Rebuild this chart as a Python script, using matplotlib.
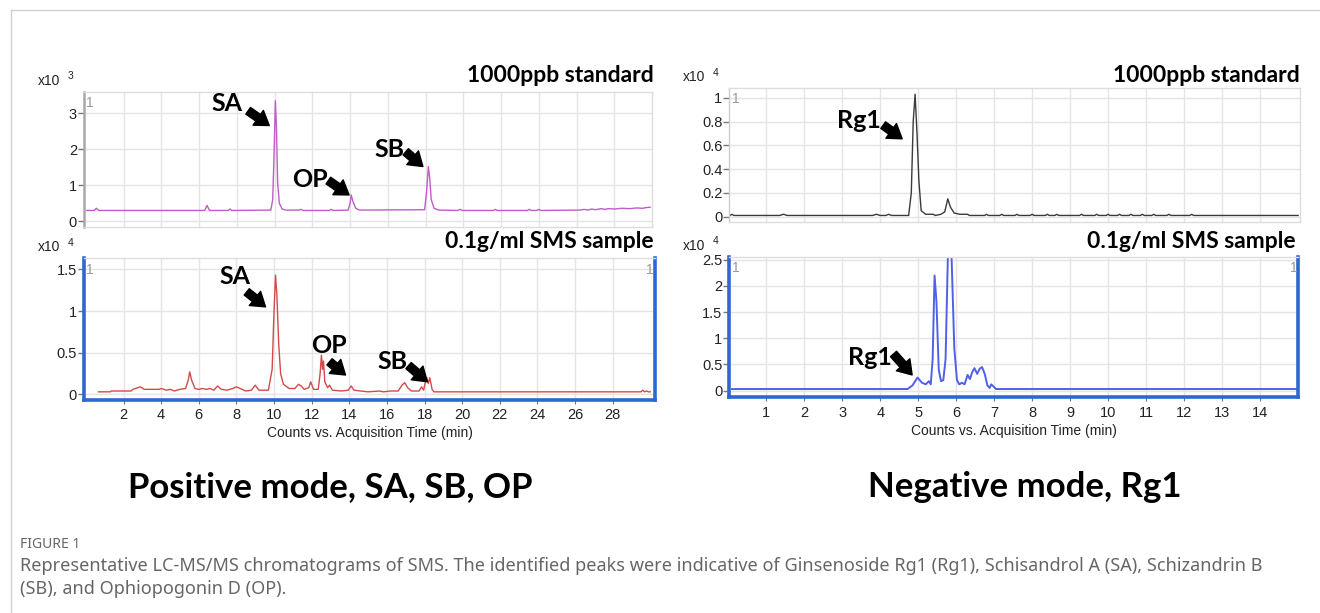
import numpy as np
import matplotlib
matplotlib.use("Agg")
import matplotlib.pyplot as plt
from matplotlib.lines import Line2D

W, H = 1320, 613

# ---- data ----
# positive mode, 1000ppb standard (x10^3 counts)
pos_std_t = [0.05, 0.45, 0.55, 0.7, 6.3, 6.42, 6.55, 7.55, 7.64, 7.72, 9.8, 9.9, 9.97, 10.04, 10.1,
             10.16, 10.25, 10.4, 10.6, 11.3, 11.4, 11.5, 12.9, 13.0, 13.1, 13.9, 14.0, 14.06, 14.15,
             14.3, 14.5, 17.95, 18.05, 18.15, 18.22, 18.3, 18.45, 18.7, 19.7, 19.83, 19.95, 21.6,
             21.7, 21.8, 23.4, 23.5, 23.6, 23.9, 24.0, 24.1, 26.2, 26.4, 26.6, 26.8, 27.0, 27.3,
             27.5, 27.7, 28.0, 28.4, 28.8, 29.2, 29.5, 29.7, 29.9]
pos_std_y = [0.30, 0.30, 0.36, 0.30, 0.30, 0.44, 0.30, 0.30, 0.34, 0.30, 0.31, 0.60, 1.80, 3.35, 2.60,
             1.10, 0.50, 0.34, 0.31, 0.31, 0.33, 0.30, 0.30, 0.33, 0.30, 0.31, 0.50, 0.73, 0.55,
             0.36, 0.31, 0.32, 0.80, 1.52, 1.20, 0.60, 0.36, 0.31, 0.30, 0.33, 0.30, 0.30,
             0.33, 0.30, 0.30, 0.33, 0.30, 0.30, 0.33, 0.30, 0.31, 0.33, 0.31, 0.34, 0.32, 0.35,
             0.33, 0.35, 0.34, 0.36, 0.35, 0.37, 0.36, 0.38, 0.39]

# positive mode, 0.1g/ml SMS sample (x10^4 counts)
pos_smp_t = [0.67, 1.3, 1.35, 2.4, 2.5, 2.9, 3.1, 3.9, 4.0, 4.3, 4.5, 4.7, 5.0, 5.3, 5.45, 5.52,
             5.62, 5.8, 6.0, 6.2, 6.4, 6.6, 6.8, 7.0, 7.2, 7.5, 7.8, 8.0, 8.2, 8.5, 8.8, 9.0, 9.2,
             9.7, 9.9, 10.0, 10.08, 10.15, 10.25, 10.35, 10.5, 10.8, 11.1, 11.3, 11.45, 11.6, 11.85,
             11.95, 12.1, 12.35, 12.45, 12.52, 12.58, 12.63, 12.7, 12.85, 12.95, 13.1, 13.6, 13.95,
             14.1, 14.25, 14.6, 15.0, 15.6, 15.8, 16.2, 16.6, 16.8, 16.95, 17.1, 17.3, 17.7, 17.85,
             17.95, 18.05, 18.12, 18.2, 18.28, 18.4, 18.5, 29.5, 29.6, 29.7, 29.8, 29.9, 30.0]
pos_smp_y = [0.03, 0.03, 0.04, 0.04, 0.06, 0.09, 0.06, 0.06, 0.07, 0.05, 0.06, 0.04, 0.06, 0.07,
             0.18, 0.27, 0.17, 0.07, 0.06, 0.07, 0.06, 0.07, 0.05, 0.10, 0.06, 0.05, 0.07, 0.09,
             0.07, 0.04, 0.05, 0.11, 0.05, 0.05, 0.30, 1.00, 1.43, 1.20, 0.60, 0.25, 0.12, 0.07,
             0.07, 0.12, 0.10, 0.06, 0.08, 0.15, 0.06, 0.06, 0.25, 0.47, 0.30, 0.40, 0.15, 0.08,
             0.11, 0.05, 0.04, 0.05, 0.10, 0.05, 0.04, 0.03, 0.04, 0.03, 0.04, 0.04, 0.11, 0.14,
             0.08, 0.04, 0.04, 0.09, 0.05, 0.15, 0.20, 0.13, 0.20, 0.06, 0.03, 0.03, 0.05, 0.03,
             0.04, 0.03, 0.03]

# negative mode, 1000ppb standard (x10^4 counts)
neg_std_t = [0.05, 0.1, 0.15, 1.35, 1.46, 1.55, 3.8, 3.9, 4.0, 4.15, 4.22, 4.3, 4.75, 4.82, 4.87,
             4.92, 4.97, 5.02, 5.08, 5.2, 5.4, 5.45, 5.6, 5.7, 5.78, 5.85, 5.95, 6.1, 6.3, 6.35,
             6.75, 6.8, 6.85, 7.15, 7.2, 7.25, 7.55, 7.6, 7.65, 7.95, 8.0, 8.05, 8.35, 8.4, 8.45,
             8.6, 8.65, 8.7, 9.25, 9.3, 9.35, 9.65, 9.7, 9.75, 9.95, 10.0, 10.05, 10.25, 10.3,
             10.35, 10.55, 10.6, 10.65, 10.85, 10.9, 10.95, 11.15, 11.2, 11.25, 11.55, 11.6, 11.65,
             12.15, 12.2, 12.25, 15.0]
neg_std_y = [0.01, 0.02, 0.01, 0.01, 0.02, 0.01, 0.01, 0.02, 0.01, 0.01, 0.02, 0.01, 0.01, 0.20,
             0.80, 1.03, 0.70, 0.30, 0.05, 0.02, 0.02, 0.01, 0.02, 0.04, 0.15, 0.08, 0.03, 0.02,
             0.02, 0.01, 0.01, 0.02, 0.01, 0.01, 0.02, 0.01, 0.01, 0.02, 0.01, 0.01, 0.02, 0.01,
             0.01, 0.02, 0.01, 0.01, 0.02, 0.01, 0.01, 0.02, 0.01, 0.01, 0.02, 0.01, 0.01, 0.02,
             0.01, 0.01, 0.02, 0.01, 0.01, 0.02, 0.01, 0.01, 0.02, 0.01, 0.01, 0.02, 0.01, 0.01,
             0.02, 0.01, 0.01, 0.02, 0.01, 0.01]

# negative mode, 0.1g/ml SMS sample (x10^4 counts)
neg_smp_t = [0.1, 4.72, 4.85, 4.98, 5.1, 5.2, 5.28, 5.33, 5.38, 5.43, 5.48, 5.54, 5.6, 5.66, 5.72,
             5.8, 5.88, 5.95, 6.02, 6.08, 6.15, 6.22, 6.3, 6.36, 6.42, 6.48, 6.55, 6.62, 6.68, 6.75,
             6.82, 6.88, 6.92, 6.98, 7.05, 15.0]
neg_smp_y = [0.03, 0.03, 0.10, 0.25, 0.15, 0.12, 0.18, 0.12, 0.60, 2.20, 1.70, 0.40, 0.18, 0.20,
             0.60, 3.20, 2.50, 0.80, 0.20, 0.12, 0.15, 0.12, 0.30, 0.22, 0.35, 0.43, 0.32, 0.42,
             0.45, 0.32, 0.10, 0.05, 0.12, 0.08, 0.03, 0.03]

pos_xticks = list(range(2, 30, 2))
neg_xticks = list(range(1, 15))

plt.rcParams['font.family'] = ['Liberation Sans', 'DejaVu Sans']

fig = plt.figure(figsize=(W / 100, H / 100), dpi=100)


def rect(l, t, r, b):
    return [l / W, 1 - b / H, (r - l) / W, (b - t) / H]


def setup(ax, xlim, ylim, yticks, xticks, sample, line_t, line_y, color, expo, lw=1.0):
    ax.plot(line_t, line_y, color=color, lw=lw, clip_on=True)
    ax.set_xlim(*xlim)
    ax.set_ylim(*ylim)
    ax.set_yticks(yticks)
    ax.set_yticklabels([('%g' % v) for v in yticks])
    ax.set_xticks(xticks)
    ax.grid(True, color='#e4e4e4', lw=1.0)
    ax.set_axisbelow(True)
    ax.tick_params(axis='y', length=4, width=1, color='#777777', labelsize=10.5, pad=1,
                   labelcolor='#222222')
    for s in ax.spines.values():
        s.set_color('#dddddd')
        s.set_linewidth(1.0)
    if sample:
        for k in ['left', 'bottom', 'right']:
            ax.spines[k].set_color('#2f66d0')
            ax.spines[k].set_linewidth(2.6)
        ax.tick_params(axis='x', length=3, color='#777777', labelsize=10.5, labelcolor='#222222',
                       pad=3)
        ax.text(0.998, 0.97, '1', transform=ax.transAxes, ha='right', va='top',
                fontsize=10, color='#999999')
    else:
        ax.spines['left'].set_color('#a8a8a8')
        ax.spines['left'].set_linewidth(1.8)
        ax.tick_params(axis='x', length=0, labelbottom=False)
    ax.text(0.004, 0.97, '1', transform=ax.transAxes, ha='left', va='top',
            fontsize=10, color='#999999')
    # x10^n label
    p = ax.get_position()
    fig.text(p.x0 - 0.035, p.y1 + 0.018, 'x10', fontsize=10, color='#222222', va='center')
    fig.text(p.x0 - 0.0125, p.y1 + 0.025, expo, fontsize=7.5, color='#222222', va='center')


def arrow(ax, tail, head):
    ax.annotate('', xy=head, xytext=tail,
                arrowprops=dict(arrowstyle='simple,head_width=1.0,head_length=0.75,tail_width=0.45',
                                mutation_scale=13, color='black', shrinkA=0, shrinkB=0))


lbl = dict(fontsize=18, fontweight='bold', family='Lato', ha='center', va='center', color='black')

# positive, standard
ax1 = fig.add_axes(rect(84, 91.7, 652, 227))
setup(ax1, (-0.1, 30.0), (-0.16, 3.6), [0, 1, 2, 3], pos_xticks, False,
      pos_std_t, pos_std_y, '#c05cc8', '3')
ax1.text(7.5, 3.26, 'SA', **lbl)
arrow(ax1, (8.6, 3.07), (9.72, 2.66))
ax1.text(11.9, 1.15, 'OP', **lbl)
arrow(ax1, (12.85, 1.13), (13.95, 0.73))
ax1.text(16.1, 2.0, 'SB', **lbl)
arrow(ax1, (16.95, 1.93), (17.86, 1.52))

# positive, sample
ax2 = fig.add_axes(rect(84, 258.3, 655, 400))
setup(ax2, (-0.1, 30.25), (-0.068, 1.633), [0, 0.5, 1, 1.5], pos_xticks, True,
      pos_smp_t, pos_smp_y, '#d24a4a', '4')
ax2.text(7.9, 1.41, 'SA', **lbl)
arrow(ax2, (8.55, 1.23), (9.55, 1.05))
ax2.text(12.94, 0.59, 'OP', **lbl)
arrow(ax2, (12.95, 0.39), (13.8, 0.232))
ax2.text(16.3, 0.389, 'SB', **lbl)
arrow(ax2, (17.15, 0.345), (18.15, 0.151))
ax2.set_xlabel('Counts vs. Acquisition Time (min)', fontsize=10, labelpad=3, color='#222222')

# negative, standard
ax3 = fig.add_axes(rect(729.3, 88.3, 1300, 222))
setup(ax3, (0.03, 15.05), (-0.045, 1.08), [0, 0.2, 0.4, 0.6, 0.8, 1], neg_xticks, False,
      neg_std_t, neg_std_y, '#3a3a3a', '4')
ax3.spines['left'].set_color('#cccccc')
ax3.spines['left'].set_linewidth(1.0)
ax3.text(3.45, 0.81, 'Rg1', **lbl)
arrow(ax3, (4.08, 0.77), (4.58, 0.655))

# negative, sample
ax4 = fig.add_axes(rect(729.3, 256.7, 1298.3, 397.3))
setup(ax4, (0.03, 15.0), (-0.128, 2.56), [0, 0.5, 1, 1.5, 2, 2.5], neg_xticks, True,
      neg_smp_t, neg_smp_y, '#5060ea', '4', lw=1.4)
ax4.text(3.74, 0.625, 'Rg1', **lbl)
arrow(ax4, (4.35, 0.70), (4.84, 0.30))
ax4.set_xlabel('Counts vs. Acquisition Time (min)', fontsize=10, labelpad=3, color='#222222')

# panel headings
hd = dict(fontsize=16.5, fontweight='bold', family='Lato', ha='right', va='center', color='black')
fig.text(654 / W, 1 - 75 / H, '1000ppb standard', **hd)
fig.text(1300 / W, 1 - 75 / H, '1000ppb standard', **hd)
fig.text(654 / W, 1 - 241 / H, '0.1g/ml SMS sample', **hd)
fig.text(1296 / W, 1 - 241 / H, '0.1g/ml SMS sample', **hd)

big = dict(fontsize=25, fontweight='bold', family='Lato', ha='center', va='center', color='black')
fig.text(330 / W, 1 - 487 / H, 'Positive mode, SA, SB, OP', **big)
fig.text(1025 / W, 1 - 487 / H, 'Negative mode, Rg1', **big)

# caption
cap = dict(family='Noto Sans', color='#666666', ha='left', va='center')
fig.text(20 / W, 1 - 545 / H, 'FIGURE 1', fontsize=10, fontweight='bold', **cap)
fig.text(20 / W, 1 - 566 / H,
         'Representative LC-MS/MS chromatograms of SMS. The identified peaks were indicative of '
         'Ginsenoside Rg1 (Rg1), Schisandrol A (SA), Schizandrin B', fontsize=13, **cap)
fig.text(20 / W, 1 - 589 / H, '(SB), and Ophiopogonin D (OP).', fontsize=13, **cap)

# frame lines
fig.add_artist(Line2D([11 / W, 11 / W], [0, 1 - 10 / H], transform=fig.transFigure,
                      color='#d0d0d0', lw=1))
fig.add_artist(Line2D([11 / W, 1], [1 - 10 / H, 1 - 10 / H], transform=fig.transFigure,
                      color='#d0d0d0', lw=1))

fig.savefig('out.png', dpi=100)
